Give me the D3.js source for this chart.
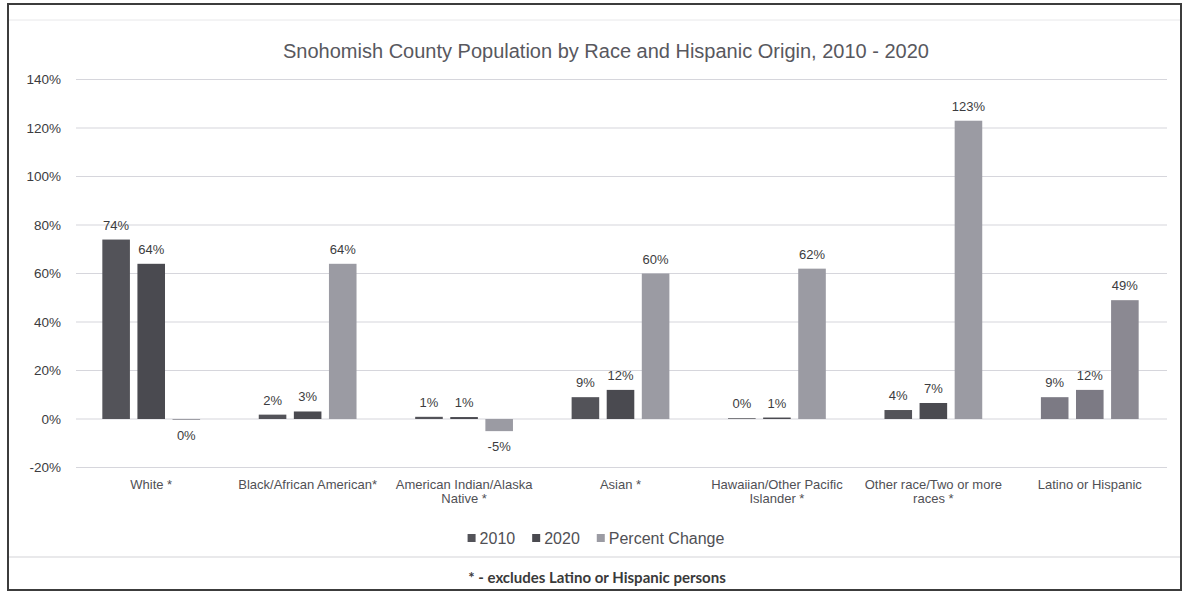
<!DOCTYPE html>
<html>
<head>
<meta charset="utf-8">
<script src="https://cdn.jsdelivr.net/npm/d3@7"></script>
<style>
  body { margin: 0; background: #fff; }
  #chart text { font-family: "Liberation Sans", Arial, sans-serif; }
</style>
</head>
<body>
<div id="chart"></div>
<script>

// Categories (x-axis) and the three series, values in percent
var categories = ["White *", "Black/African American*", "American Indian/Alaska Native *",
                  "Asian *", "Hawaiian/Other Pacific Islander *", "Other race/Two or more races *",
                  "Latino or Hispanic"];
var series = ["2010", "2020", "Percent Change"];
var share2010 = [74, 1.8, 0.9, 9, 0.3, 3.7, 9];
var share2020 = [64, 3.1, 0.8, 12, 0.6, 6.6, 12];
var pctChange = [-0.4, 64, -5, 60, 62, 123, 49];
var yTicks = [-20, 0, 20, 40, 60, 80, 100, 120, 140];

var title = "Snohomish County Population by Race and Hispanic Origin, 2010 - 2020";
var footnote = "* - excludes Latino or Hispanic persons";

function init() {

  var W = 1187, H = 594;

  var svg = d3.select("#chart")
              .append("svg")
              .attr("width", W)
              .attr("height", H);

  // build rows for the grouped bars
  var rows = categories.map(function(c, i) {
    return {cat: c, values: [share2010[i], share2020[i], pctChange[i]]};
  });

  var colors = {"2010": "#535359", "2020": "#4a4a50", "Percent Change": "#9b9ba3"};
  // the Latino group came out lighter in the print
  var latinoColors = {"2010": "#7c7a84", "2020": "#7c7a84", "Percent Change": "#8b8992"};

  /*-------------------------- scales --------------------------*/
  var x0 = d3.scaleBand()
             .domain(categories)
             .range([73, 1168])
             .paddingInner(0.375)
             .paddingOuter(0.1875);

  var x1 = d3.scaleBand()
             .domain(series)
             .range([0, x0.bandwidth()])
             .paddingInner(0.214);

  var y = d3.scaleLinear()
            .domain([-20, 140])
            .range([467.5, 79.5]);

  /*------------------- frame of the scanned chart -------------------*/
  svg.append("line").attr("x1", 9).attr("x2", 1180).attr("y1", 20).attr("y2", 20)
     .attr("stroke", "#e8e8ea");
  svg.append("line").attr("x1", 9).attr("x2", 1180).attr("y1", 557).attr("y2", 557)
     .attr("stroke", "#e2e2e4").attr("stroke-width", 1.5);
  svg.append("rect")
     .attr("x", 8).attr("y", 4).attr("width", 1173).attr("height", 586)
     .attr("fill", "none").attr("stroke", "#3c3c3c").attr("stroke-width", 2);

  // Title
  svg.append("text")
     .attr("x", 606).attr("y", 58)
     .attr("text-anchor", "middle")
     .style("font-size", "20px")
     .attr("fill", "#58585e")
     .text(title);

  /*------------------- gridlines + y axis -------------------*/
  svg.append("g")
     .selectAll("line")
     .data(yTicks)
     .enter().append("line")
     .attr("x1", 76).attr("x2", 1167)
     .attr("y1", function(d) { return y(d); })
     .attr("y2", function(d) { return y(d); })
     .attr("stroke", "#d6d6dc")
     .attr("stroke-width", 1.2);

  var yAxis = svg.append("g")
     .attr("transform", "translate(75,0)")
     .call(d3.axisLeft(y).tickValues(yTicks).tickSize(0).tickPadding(14)
             .tickFormat(function(d) { return d + "%"; }));
  yAxis.select(".domain").remove();
  yAxis.selectAll("text")
       .style("font-size", "13.5px")
       .attr("fill", "#3c3c40");

  /*------------------- category axis (wrapped labels) -------------------*/
  var xAxis = svg.append("g")
     .attr("transform", "translate(0," + y(-20) + ")")
     .call(d3.axisBottom(x0).tickSize(0).tickPadding(12));
  xAxis.select(".domain").remove();
  xAxis.selectAll("text")
       .style("font-size", "13px")
       .attr("fill", "#505055")
       .call(wrap, 155);

  /*------------------- bars -------------------*/
  var groups = svg.append("g")
     .selectAll("g")
     .data(rows)
     .enter().append("g")
     .attr("transform", function(d) { return "translate(" + x0(d.cat) + ",0)"; });

  var cells = groups.selectAll("g")
     .data(function(d) {
       return series.map(function(s, j) { return {cat: d.cat, key: s, value: d.values[j]}; });
     })
     .enter().append("g");

  cells.append("rect")
     .attr("x", function(d) { return x1(d.key); })
     .attr("y", function(d) { return y(Math.max(0, d.value)); })
     .attr("width", x1.bandwidth())
     .attr("height", function(d) { return Math.abs(y(d.value) - y(0)); })
     .attr("fill", function(d) {
       return d.cat === "Latino or Hispanic" ? latinoColors[d.key] : colors[d.key];
     });

  // data labels: above positive bars, below negative ones
  cells.append("text")
     .attr("x", function(d) { return x1(d.key) + x1.bandwidth() / 2; })
     .attr("y", function(d) {
       return d.value >= 0 ? y(d.value) - 10 : y(d.value) + 20;
     })
     .attr("text-anchor", "middle")
     .style("font-size", "13px")
     .attr("fill", "#3c3c40")
     .text(function(d) { return (Math.round(d.value) || 0) + "%"; });

  /*------------------- legend -------------------*/
  var legend = svg.append("g").attr("transform", "translate(0,538)");
  var item = legend.selectAll("g")
     .data(series)
     .enter().append("g");

  item.append("rect")
     .attr("y", -4).attr("width", 8).attr("height", 8)
     .attr("fill", function(d) { return colors[d]; });

  item.append("text")
     .attr("x", 12).attr("dy", "0.36em")
     .style("font-size", "16px")
     .attr("fill", "#505055")
     .text(function(d) { return d; });

  // lay the items out next to each other and center the whole row
  var offs = [], pos = 0;
  item.each(function() {
    offs.push(pos);
    pos += 12 + d3.select(this).select("text").node().getComputedTextLength() + 17;
  });
  var total = pos - 17;
  item.attr("transform", function(d, i) { return "translate(" + (596 - total / 2 + offs[i]) + ",0)"; });

  // footnote
  svg.append("text")
     .attr("x", 597).attr("y", 583)
     .attr("text-anchor", "middle")
     .style("font-family", "Lato, 'Open Sans', sans-serif")
     .style("font-size", "15px")
     .style("font-weight", "bold")
     .attr("fill", "#3a3a3a")
     .text(footnote);
}

// splits long tick labels into lines
function wrap(text, width) {
  text.each(function() {
    var t = d3.select(this),
        words = t.text().split(/\s+/).reverse(),
        word, line = [],
        yy = t.attr("y"),
        tspan = t.text(null).append("tspan").attr("x", 0).attr("y", yy).attr("dy", "0.71em"),
        n = 0;
    while (word = words.pop()) {
      line.push(word);
      tspan.text(line.join(" "));
      if (tspan.node().getComputedTextLength() > width && line.length > 1) {
        line.pop();
        tspan.text(line.join(" "));
        line = [word];
        n++;
        tspan = t.append("tspan").attr("x", 0).attr("y", yy)
                 .attr("dy", (0.71 * 13 + n * 14) + "px").text(word);
      }
    }
  });
}

window.onload = init;
</script>
</body>
</html>
